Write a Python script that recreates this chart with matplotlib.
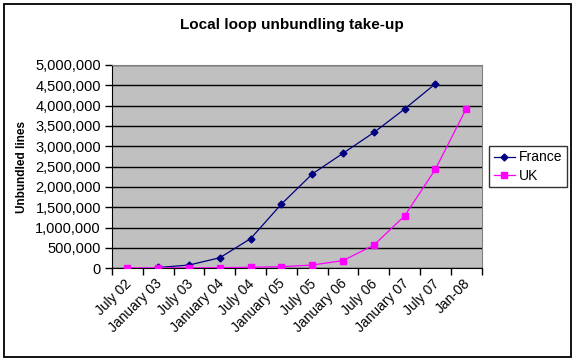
import numpy as np
import matplotlib
matplotlib.use('Agg')
import matplotlib.pyplot as plt
from matplotlib.patches import Rectangle
from matplotlib.ticker import FuncFormatter

# Data
periods = ['July 02', 'January 03', 'July 03', 'January 04', 'July 04', 'January 05',
           'July 05', 'January 06', 'July 06', 'January 07', 'July 07', 'Jan-08']
france = [np.nan, 20000, 80000, 260000, 730000, 1580000,
          2320000, 2830000, 3340000, 3920000, 4540000, np.nan]
uk = [10000, 10000, 10000, 15000, 25000, 40000,
      80000, 190000, 570000, 1290000, 2440000, 3930000]

plt.rcParams['font.family'] = ['Liberation Sans', 'DejaVu Sans']

fig = plt.figure(figsize=(5.76, 3.61), dpi=100)
fig.patch.set_facecolor('white')
ax = fig.add_axes([112/576, 1 - 268.3/361, (481.7 - 112)/576, (268.3 - 65)/361])
ax.set_facecolor('#C0C0C0')

x = np.arange(len(periods)) + 0.5
ax.plot(x, france, color='#000080', lw=0.9, marker='D', ms=3.5, label='France', zorder=3)
ax.plot(x, uk, color='#FF00FF', lw=0.9, marker='s', ms=5, label='UK', zorder=4)

ax.set_xlim(0, len(periods))
ax.set_ylim(0, 5000000)
ax.set_yticks(np.arange(0, 5000001, 500000))
ax.yaxis.set_major_formatter(FuncFormatter(lambda v, p: f'{int(v):,}'))
ax.yaxis.grid(True, color='black', lw=1)
ax.set_axisbelow(True)

# category boundaries get the tick marks, labels sit at the centres
ax.set_xticks(np.arange(0, len(periods) + 1))
ax.set_xticklabels([])
ax.set_xticks(x - 0.1, minor=True)
ax.set_xticklabels(periods, minor=True, rotation=45, ha='right', rotation_mode='anchor',
                   fontsize=10)
ax.tick_params(axis='x', which='minor', length=0, pad=6)
ax.tick_params(axis='x', which='major', length=5, width=1, color='black')
ax.tick_params(axis='y', length=5, width=1, labelsize=10.5, pad=3)

for side in ['top', 'right']:
    ax.spines[side].set_color('#808080')
ax.spines['left'].set_color('black')
ax.spines['bottom'].set_color('black')

fig.text(22.5/576, 1 - 167/361, 'Unbundled lines', rotation=90, fontsize=8.5,
         fontweight='bold', ha='center', va='center')
fig.text(292/576, 1 - 25/361, 'Local loop unbundling take-up', fontsize=11,
         fontweight='bold', ha='center', va='center')

leg = fig.legend(loc='center left', bbox_to_anchor=(489/576, 1 - 166.5/361),
                 frameon=True, fancybox=False, fontsize=10, handlelength=1.5,
                 borderpad=0.35, labelspacing=0.3, handletextpad=0.3,
                 borderaxespad=0)
leg.get_frame().set_edgecolor('black')
leg.get_frame().set_linewidth(1)

fig.add_artist(Rectangle((4/576, 4/361), 567/576, 353/361, transform=fig.transFigure,
                         fill=False, lw=1.3, ec='black'))

fig.savefig('out.png', dpi=100)
